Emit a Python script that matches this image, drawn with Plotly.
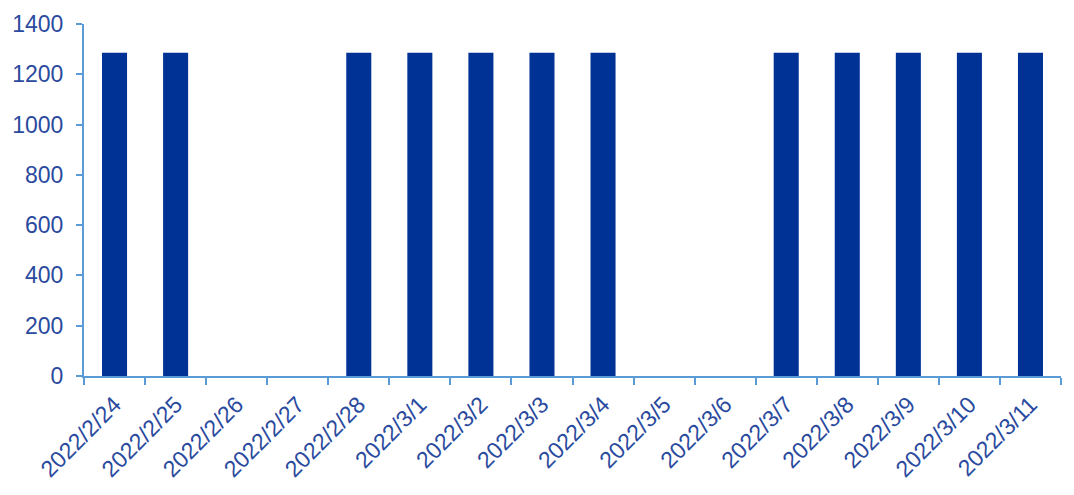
import plotly.graph_objects as go

dates = ["2022/2/24", "2022/2/25", "2022/2/26", "2022/2/27", "2022/2/28",
         "2022/3/1", "2022/3/2", "2022/3/3", "2022/3/4", "2022/3/5",
         "2022/3/6", "2022/3/7", "2022/3/8", "2022/3/9", "2022/3/10", "2022/3/11"]
values = [1286, 1286, 0, 0, 1286, 1286, 1286, 1286, 1286, 0, 0,
          1286, 1286, 1286, 1286, 1286]

bar_color = "#003296"
axis_color = "#5B9BD5"
label_color = "#2A4A9E"

fig = go.Figure(go.Bar(x=dates, y=values, marker=dict(color=bar_color, line=dict(width=0)), width=0.41))

fig.update_layout(
    width=1074, height=495,
    margin=dict(l=76, r=21, t=16, b=127, autoexpand=False),
    paper_bgcolor="white", plot_bgcolor="white",
    showlegend=False,
    font=dict(family="Liberation Sans, Arial, sans-serif", color=label_color),
)
fig.update_xaxes(
    type="category", tickangle=-45, tickson="boundaries", automargin=False,
    showline=True, linecolor=axis_color, linewidth=2,
    ticks="outside", ticklen=7, tickcolor=axis_color, tickwidth=2,
    showgrid=False, tickfont=dict(size=23, color=label_color),
    ticklabelstandoff=4,
)
fig.update_yaxes(
    range=[0, 1400], tickvals=[0, 200, 400, 600, 800, 1000, 1200, 1400],
    automargin=False,
    showline=True, linecolor=axis_color, linewidth=2,
    ticks="outside", ticklen=6, tickcolor=axis_color, tickwidth=2,
    showgrid=False, zeroline=False, tickfont=dict(size=23, color=label_color),
    ticklabelstandoff=8,
)

fig.write_html("out.html")
